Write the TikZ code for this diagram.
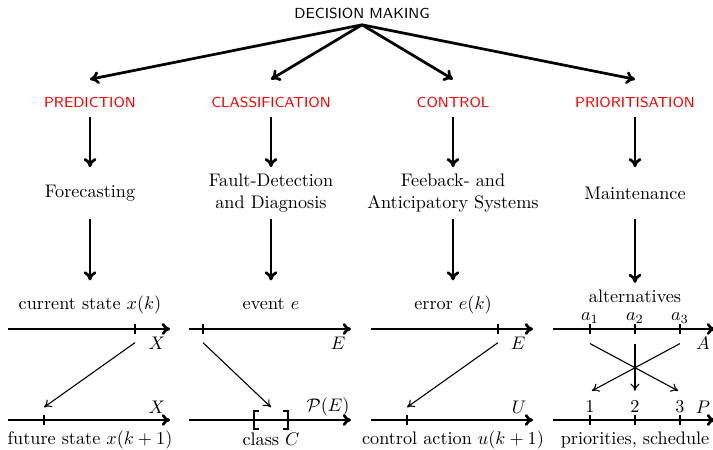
\documentclass[tikz,border=0pt]{standalone}
\usepackage{amsmath}
\usepackage{amssymb}
\usepackage{xcolor}
\usepackage{tikz}
\usetikzlibrary{positioning,calc,arrows.meta}

\begin{document}
\begin{tikzpicture}[
  x=0.0193cm, y=-0.0193cm,
  % Root node
  root/.style={font=\footnotesize\sffamily},
  % Task names (red)
  task/.style={font=\footnotesize\sffamily, text=red},
  % Application nodes
  app/.style={font=\normalsize, align=center, minimum height=28pt},
  % Labels above/below the axes
  lbl/.style={font=\normalsize, text height=7.5pt, text depth=2.5pt},
  sym/.style={font=\normalsize, inner sep=1pt},
  % Thick arrows of the tree
  main_arrow/.style={-{To[length=5pt,width=7pt]}, line width=1.5pt},
  % Axes
  axis_line/.style={-{To[length=4.5pt,width=6.5pt]}, line width=1.5pt},
  tick_mark/.style={line width=1.3pt},
  bracket/.style={line width=1.6pt},
  % Thin mapping arrows
  map_arrow/.style={-{To[length=4pt,width=5pt]}, line width=0.6pt}
  ]

  \useasboundingbox (0,0) rectangle (713,449);

  % --- Tree ---
  \node[root] (dm) at (362,13) {DECISION MAKING};

  \node[task] (pred) at (90,102) {PREDICTION};
  \node[task] (clas) at (271,102) {CLASSIFICATION};
  \node[task] (ctrl) at (453,102) {CONTROL};
  \node[task] (prio) at (635,102) {PRIORITISATION};

  \node[app] (fore) at (90,193) {Forecasting};
  \node[app] (fdd) at (271,193) {Fault-Detection\\and Diagnosis};
  \node[app] (fas) at (453,193) {Feeback- and\\Anticipatory Systems};
  \node[app] (mnt) at (635,193) {Maintenance};

  \foreach \t/\a in {pred/fore, clas/fdd, ctrl/fas, prio/mnt} {
    \draw[main_arrow] (dm.south) -- ([yshift=6pt]\t.north);
    \draw[main_arrow] ([yshift=-2pt]\t.south) -- (\a.north);
  }

  % --- PREDICTION ---
  \begin{scope}[shift={(90,0)}]
    \coordinate (xa) at (-82,329);
    \coordinate (xb) at (80,329);
    \coordinate (ya) at (-82,420);
    \coordinate (yb) at (80,420);
    \coordinate (xk) at (45,329);
    \coordinate (xk1) at (-46,420);
    \draw[axis_line] (xa) -- (xb);
    \draw[axis_line] (ya) -- (yb);
    \draw[tick_mark] (xk) ++(0,-5) -- ++(0,10);
    \draw[tick_mark] (xk1) ++(0,-5) -- ++(0,10);
    \node[sym] (lx1) at (67,343) {$X$};
    \node[sym] (lx2) at (67,407) {$X$};
    \draw[map_arrow] ([yshift=-7.5pt]xk) -- ([yshift=7pt]xk1);
    \node[lbl] (cur) at (0,305) {current state $x(k)$};
    \node[lbl] (fut) at (0,440) {future state $x(k+1)$};
  \end{scope}

  % --- CLASSIFICATION ---
  \begin{scope}[shift={(271,0)}]
    \coordinate (ea) at (-82,329);
    \coordinate (eb) at (80,329);
    \coordinate (pa) at (-82,420);
    \coordinate (pb) at (80,420);
    \coordinate (ev1) at (-68,329);
    \coordinate (cl) at (-17,420);
    \coordinate (cr) at (17,420);
    \coordinate (cm) at (0,420);
    \draw[axis_line] (ea) -- (eb);
    \draw[axis_line] (pa) -- (pb);
    \draw[tick_mark] (ev1) ++(0,-5) -- ++(0,10);
    % class C as an interval
    \draw[bracket] (cl) ++(5,-9) -- ++(-5,0) -- ++(0,18) -- ++(5,0);
    \draw[bracket] (cr) ++(-5,-9) -- ++(5,0) -- ++(0,18) -- ++(-5,0);
    \node[sym] (le) at (67,343) {$E$};
    \node[sym] (lpe) at (57,407) {$\mathcal{P}(E)$};
    \draw[map_arrow] ([yshift=-7.5pt]ev1) -- ([yshift=7pt]cm);
    \node[lbl] (ev) at (0,305) {event $e$};
    \node[lbl] (cls) at (0,441) {class $C$};
  \end{scope}

  % --- CONTROL ---
  \begin{scope}[shift={(453,0)}]
    \coordinate (ra) at (-82,329);
    \coordinate (rb) at (80,329);
    \coordinate (ua) at (-82,420);
    \coordinate (ub) at (80,420);
    \coordinate (ek) at (45,329);
    \coordinate (uk1) at (-46,420);
    \draw[axis_line] (ra) -- (rb);
    \draw[axis_line] (ua) -- (ub);
    \draw[tick_mark] (ek) ++(0,-5) -- ++(0,10);
    \draw[tick_mark] (uk1) ++(0,-5) -- ++(0,10);
    \node[sym] (le2) at (65,343) {$E$};
    \node[sym] (lu) at (66,407) {$U$};
    \draw[map_arrow] ([yshift=-7.5pt]ek) -- ([yshift=7pt]uk1);
    \node[lbl] (err) at (0,305) {error $e(k)$};
    \node[lbl] (act) at (0,440) {control action $u(k+1)$};
  \end{scope}

  % --- PRIORITISATION ---
  \begin{scope}[shift={(635,0)}]
    \coordinate (aa) at (-82,329);
    \coordinate (ab) at (80,329);
    \coordinate (qa) at (-82,420);
    \coordinate (qb) at (80,420);
    \foreach \i/\xx in {1/-45, 2/0, 3/45} {
      \coordinate (a\i) at (\xx,329);
      \coordinate (p\i) at (\xx,420);
      \draw[tick_mark] (a\i) ++(0,-5) -- ++(0,10);
      \draw[tick_mark] (p\i) ++(0,-5) -- ++(0,10);
      \node[sym, inner sep=0.5pt] (la\i) at (\xx,318) {$a_\i$};
      \node[sym] (lp\i) at (\xx,407) {$\i$};
    }
    \draw[axis_line] (aa) -- (ab);
    \draw[axis_line] (qa) -- (qb);
    \node[sym] (lA) at (68,343) {$A$};
    \node[sym] (lP) at (68,407) {$P$};
    \draw[map_arrow] ([yshift=-8pt]a1) -- ([xshift=-1pt,yshift=16pt]p3);
    \draw[map_arrow] ([yshift=-8pt]a3) -- ([xshift=1pt,yshift=16pt]p1);
    \draw[map_arrow] ([yshift=-8pt]a2) -- ([yshift=16pt]p2);
    \node[font=\normalsize, inner sep=0.5pt] (alt) at (0,296) {alternatives};
    \node[lbl] (sch) at (0,440) {priorities, schedule};
  \end{scope}

  % --- Application to mapping ---
  \foreach \a/\b in {fore/cur, fdd/ev, fas/err}
    \draw[main_arrow] (\a.south) -- ([yshift=5pt]\b.north);
  \draw[main_arrow] (mnt.south) -- ([yshift=3pt]alt.north);

\end{tikzpicture}
\end{document}
